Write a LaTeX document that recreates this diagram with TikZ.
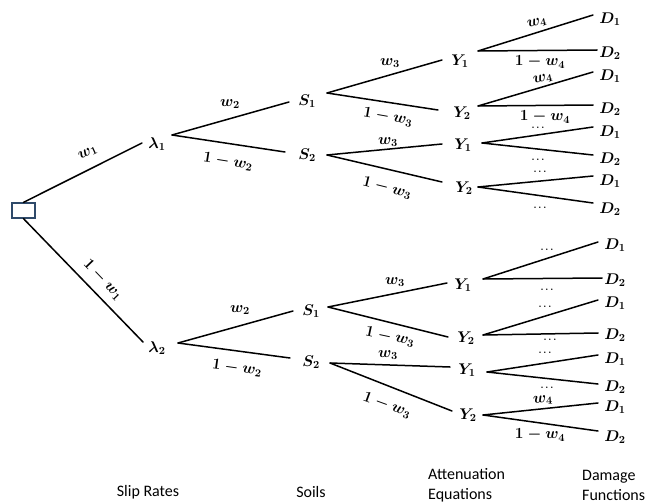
\documentclass[tikz,border=0pt]{standalone}
\usepackage{fix-cm}
\usepackage{fontspec}
\setmainfont{Carlito}
\definecolor{boxc}{HTML}{2F4A6A}
\tikzset{
  br/.style={line width=1.5pt, line cap=round},
  ml/.style={font=\fontsize{15.5}{18}\selectfont\boldmath, inner sep=0pt},
  dl/.style={font=\fontsize{9.5}{11}\selectfont\boldmath, inner sep=0pt},
  tl/.style={font=\fontsize{16}{20}\selectfont, inner sep=0pt, align=left},
}
\begin{document}
\begin{tikzpicture}[x=1pt,y=-1pt]
\useasboundingbox (0,0) rectangle (647,503);
% root
\node[draw=boxc, line width=1.3pt, fill=white, minimum width=23pt, minimum height=15pt, inner sep=0pt] (root) at (23.5,210.5) {};
% level 1 labels
\node[ml] (l1) at (157,144) {$\lambda_1$};
\node[ml] (l2) at (157,348) {$\lambda_2$};
\coordinate (l1i) at (142,143); \coordinate (l1o) at (172,135);
\coordinate (l2i) at (143,342); \coordinate (l2o) at (178,343);
\draw[br] (root.north) -- (l1i);
\draw[br] (root.south) -- (l2i);
\node[ml, rotate=25] (w1) at (88,153) {$w_1$};
\node[ml, rotate=-46] (nw1) at (103,280) {$1-w_1$};
% level 2
\node[ml] (s1a) at (307,101) {$S_1$};
\node[ml] (s2a) at (307,155) {$S_2$};
\node[ml] (s1b) at (311,311) {$S_1$};
\node[ml] (s2b) at (311,362) {$S_2$};
\coordinate (s1ai) at (289,102); \coordinate (s1ao) at (327,93);
\coordinate (s2ai) at (285,152); \coordinate (s2ao) at (327,155);
\coordinate (s1bi) at (293,311); \coordinate (s1bo) at (328,307);
\coordinate (s2bi) at (290,358); \coordinate (s2bo) at (330,363);
\draw[br] (l1o) -- (s1ai);
\draw[br] (l1o) -- (s2ai);
\draw[br] (l2o) -- (s1bi);
\draw[br] (l2o) -- (s2bi);
\node[ml] (w2a) at (230,104) {$w_2$};
\node[ml, rotate=-9] (nw2a) at (228,162) {$1-w_2$};
\node[ml] (w2b) at (240,310) {$w_2$};
\node[ml, rotate=-8] (nw2b) at (237,368) {$1-w_2$};
% level 3
\node[ml] (y1a) at (460,61) {$Y_1$};
\node[ml] (y2a) at (462,113) {$Y_2$};
\node[ml] (y1b) at (463,145) {$Y_1$};
\node[ml] (y2b) at (464,188) {$Y_2$};
\node[ml] (y1c) at (463,285) {$Y_1$};
\node[ml] (y2c) at (466,338) {$Y_2$};
\node[ml] (y1d) at (467,370) {$Y_1$};
\node[ml] (y2d) at (468,415) {$Y_2$};
\coordinate (y1ai) at (442,60);  \coordinate (y1ao) at (478,51);
\coordinate (y2ai) at (438,110); \coordinate (y2ao) at (478,106);
\coordinate (y1bi) at (442,144); \coordinate (y1bo) at (482,143);
\coordinate (y2bi) at (442,182); \coordinate (y2bo) at (478,187);
\coordinate (y1ci) at (447,283); \coordinate (y1co) at (483,279);
\coordinate (y2ci) at (448,337); \coordinate (y2co) at (483,335);
\coordinate (y1di) at (450,367); \coordinate (y1do) at (487,372);
\coordinate (y2di) at (452,411); \coordinate (y2do) at (483,415);
\draw[br] (s1ao) -- (y1ai);
\draw[br] (s1ao) -- (y2ai);
\draw[br] (s2ao) -- (y1bi);
\draw[br] (s2ao) -- (y2bi);
\draw[br] (s1bo) -- (y1ci);
\draw[br] (s1bo) -- (y2ci);
\draw[br] (s2bo) -- (y1di);
\draw[br] (s2bo) -- (y2di);
\node[ml] (w3a) at (390,63) {$w_3$};
\node[ml, rotate=-10] (nw3a) at (388,117) {$1-w_3$};
\node[ml] (w3b) at (388,142) {$w_3$};
\node[ml, rotate=-14] (nw3b) at (387,188) {$1-w_3$};
\node[ml] (w3c) at (395,282) {$w_3$};
\node[ml, rotate=-12] (nw3c) at (390,337) {$1-w_3$};
\node[ml] (w3d) at (388,355) {$w_3$};
\node[ml, rotate=-20] (nw3d) at (387,405) {$1-w_3$};
% level 4 endpoints
\coordinate (da1) at (593,15);  \coordinate (da2) at (597,50);
\coordinate (db1) at (593,72);  \coordinate (db2) at (593,105);
\coordinate (dc1) at (593,127); \coordinate (dc2) at (593,155);
\coordinate (dd1) at (593,176); \coordinate (dd2) at (593,203);
\coordinate (de1) at (598,242); \coordinate (de2) at (602,278);
\coordinate (df1) at (598,300); \coordinate (df2) at (598,333);
\coordinate (dg1) at (598,355); \coordinate (dg2) at (598,384);
\coordinate (dh1) at (598,403); \coordinate (dh2) at (598,431);
\draw[br] (y1ao) -- (da1); \draw[br] (y1ao) -- (da2);
\draw[br] (y2ao) -- (db1); \draw[br] (y2ao) -- (db2);
\draw[br] (y1bo) -- (dc1); \draw[br] (y1bo) -- (dc2);
\draw[br] (y2bo) -- (dd1); \draw[br] (y2bo) -- (dd2);
\draw[br] (y1co) -- (de1); \draw[br] (y1co) -- (de2);
\draw[br] (y2co) -- (df1); \draw[br] (y2co) -- (df2);
\draw[br] (y1do) -- (dg1); \draw[br] (y1do) -- (dg2);
\draw[br] (y2do) -- (dh1); \draw[br] (y2do) -- (dh2);
% D labels
\node[ml] (Da1) at (610,19)  {$D_1$};
\node[ml] (Da2) at (610,53)  {$D_2$};
\node[ml] (Db1) at (610,76)  {$D_1$};
\node[ml] (Db2) at (610,109) {$D_2$};
\node[ml] (Dc1) at (610,132) {$D_1$};
\node[ml] (Dc2) at (610,159) {$D_2$};
\node[ml] (Dd1) at (610,181) {$D_1$};
\node[ml] (Dd2) at (610,209) {$D_2$};
\node[ml] (De1) at (615,245) {$D_1$};
\node[ml] (De2) at (615,280) {$D_2$};
\node[ml] (Df1) at (615,303) {$D_1$};
\node[ml] (Df2) at (615,335) {$D_2$};
\node[ml] (Dg1) at (615,359) {$D_1$};
\node[ml] (Dg2) at (615,387) {$D_2$};
\node[ml] (Dh1) at (615,407) {$D_1$};
\node[ml] (Dh2) at (615,437) {$D_2$};
% level 4 branch labels
\node[ml, rotate=12] (w4a) at (537,23) {$w_4$};
\node[ml] (nw4a) at (540,62) {$1-w_4$};
\node[ml, rotate=12] (w4b) at (543,79) {$w_4$};
\node[ml] (nw4b) at (545,117) {$1-w_4$};
\node[dl] (e1) at (538,128) {$\dots$};
\node[dl] (e2) at (538,160) {$\dots$};
\node[dl] (e3) at (540,172) {$\dots$};
\node[dl] (e4) at (540,208) {$\dots$};
\node[dl] (e5) at (547,250) {$\dots$};
\node[dl] (e6) at (547,290) {$\dots$};
\node[dl] (e7) at (545,307) {$\dots$};
\node[dl] (e8) at (550,340) {$\dots$};
\node[dl] (e9) at (545,353) {$\dots$};
\node[dl] (e10) at (547,388) {$\dots$};
\node[ml, rotate=5] (w4h) at (543,400) {$w_4$};
\node[ml] (nw4h) at (540,435) {$1-w_4$};
% column titles
\node[tl] (t1) at (148,492) {Slip Rates};
\node[tl] (t2) at (311,492) {Soils};
\node[tl, anchor=west] (t3) at (428,485) {Attenuation\\Equations};
\node[tl, anchor=west] (t4) at (582,485) {Damage\\Functions};
\end{tikzpicture}
\end{document}
